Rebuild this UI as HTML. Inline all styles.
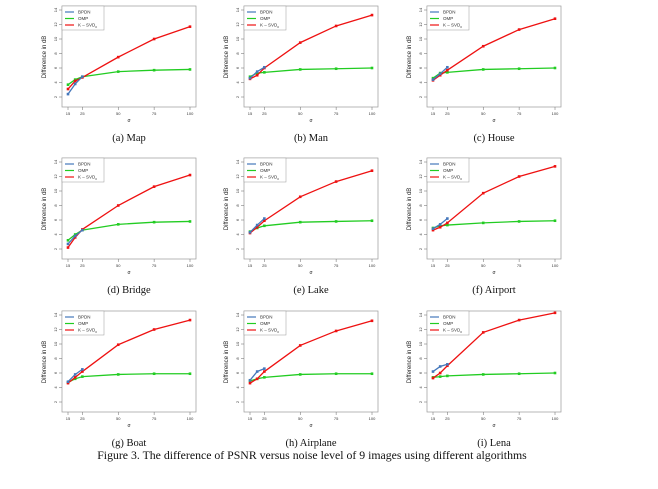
<!DOCTYPE html>
<html><head><meta charset="utf-8"><style>
body{margin:0;background:#fff}
svg{display:block}
</style></head><body>
<svg id="fig" width="658" height="489" font-family="Liberation Sans, sans-serif"></svg>
<script>
const xVals=[15,20,25,50,75,100];
const xTicks=[15,25,50,75,100];
const yTicks=[2,4,6,8,10,12,14];
const titles=["(a) Map","(b) Man","(c) House","(d) Bridge","(e) Lake","(f) Airport","(g) Boat","(h) Airplane","(i) Lena"];
const bpdn=[[2.4,3.8,4.8],[4.6,5.5,6.1],[4.4,5.2,6.1],[2.7,3.8,4.6],[4.3,5.3,6.2],[4.8,5.4,6.2],[4.8,5.8,6.5],[5.0,6.2,6.6],[6.2,6.9,7.2]];
const omp=[[3.7,4.4,4.8,5.5,5.7,5.8],[4.8,5.3,5.4,5.8,5.9,6.0],[4.6,5.3,5.4,5.8,5.9,6.0],[3.2,4.0,4.6,5.4,5.7,5.8],[4.4,4.9,5.2,5.7,5.8,5.9],[4.9,5.2,5.3,5.6,5.8,5.9],[4.7,5.2,5.5,5.8,5.9,5.9],[4.9,5.2,5.4,5.8,5.9,5.9],[5.4,5.5,5.6,5.8,5.9,6.0]];
const ksvd=[[3.1,4.2,4.7,7.5,10.0,11.7],[4.5,5.0,6.0,9.5,11.8,13.3],[4.3,5.0,5.7,9.0,11.3,12.8],[2.2,3.6,4.7,8.0,10.6,12.2],[4.2,5.0,5.9,9.2,11.3,12.8],[4.6,5.0,5.6,9.7,12.0,13.4],[4.6,5.4,6.2,9.9,12.0,13.3],[4.6,5.2,6.2,9.8,11.8,13.2],[5.3,6.0,7.0,11.6,13.3,14.3]];
const NS="http://www.w3.org/2000/svg";
const svg=document.getElementById('fig');
function mk(tag,attrs,parent,txt){const e=document.createElementNS(NS,tag);for(const k in attrs)e.setAttribute(k,attrs[k]);if(txt!==undefined)e.textContent=txt;(parent||svg).appendChild(e);return e;}
const colOff=[0,182,365], rowOff=[0,152,305];
for(let p=0;p<9;p++){
  const ox=colOff[p%3], oy=rowOff[Math.floor(p/3)];
  const g=mk('g',{transform:`translate(${ox},${oy})`});
  
  
  const sx=v=>68+(v-15)*(122/85);
  const sy=v=>97-(v-2)*(87/12);
  const box=mk('rect',{x:62,y:6,width:134,height:101,fill:'none',stroke:'#999','stroke-width':0.7},g);
  
  yTicks.forEach(t=>{mk('line',{x1:59,x2:62,y1:sy(t),y2:sy(t),stroke:'#666','stroke-width':0.5},g);
    const tl=mk('text',{x:57,y:sy(t),'font-size':4,fill:'#333','text-anchor':'middle',transform:`rotate(-90 57 ${sy(t)})`},g,t);
    });
  xTicks.forEach(t=>{mk('line',{x1:sx(t),x2:sx(t),y1:107,y2:110,stroke:'#666','stroke-width':0.5},g);
    const tl=mk('text',{x:sx(t),y:115,'font-size':4,fill:'#333','text-anchor':'middle'},g,t);
    });
  const yt=mk('text',{x:46,y:57,'font-size':6,fill:'#222','text-anchor':'middle',transform:'rotate(-90 46 57)'},g,'Difference in dB');
  
  const xt=mk('text',{x:129,y:122,'font-size':5,fill:'#222','text-anchor':'middle'},g,'σ');
  
  const series=[[omp[p],'#22cc22','omp-line'],[ksvd[p],'#ee1111','ksvd-line'],[bpdn[p],'#4477bb','bpdn-line']];
  series.forEach(([d,c,n])=>{
    const pts=d.map((v,i)=>sx(xVals[i])+','+sy(v)).join(' ');
    const l=mk('polyline',{points:pts,fill:'none',stroke:c,'stroke-width':1.3},g);
    
    d.forEach((v,i)=>{const m=mk('rect',{x:sx(xVals[i])-1.3,y:sy(v)-1.3,width:2.6,height:2.6,fill:c},g);
      });
  });
  const lg=mk('g',{},g);
  mk('rect',{x:62,y:6,width:42,height:24,fill:'#fff',stroke:'#999','stroke-width':0.5},lg);
  [['BPDN','#4477bb'],['OMP','#22cc22'],['K – SVD','#ee1111']].forEach(([t,c],i)=>{
    const y=12+i*6.5;
    mk('line',{x1:65,x2:74,y1:y,y2:y,stroke:c,'stroke-width':1.2},lg);
    const tx=mk('text',{x:78,y:y+1.7,'font-size':4.5,fill:'#333'},lg,t);
    if(i==2){mk('tspan',{'font-size':3,dy:1.2},tx,'0');}
    
  });
  const cap=mk('text',{x:129,y:141,'font-size':10.5,fill:'#111','text-anchor':'middle','font-family':'Liberation Serif, serif'},g,titles[p]);
  
}
const fc=mk('text',{x:312,y:459,'font-size':11.8,fill:'#111','text-anchor':'middle','font-family':'Liberation Serif, serif'},svg,'Figure 3. The difference of PSNR versus noise level of 9 images using different algorithms');


</script>
</body></html>
